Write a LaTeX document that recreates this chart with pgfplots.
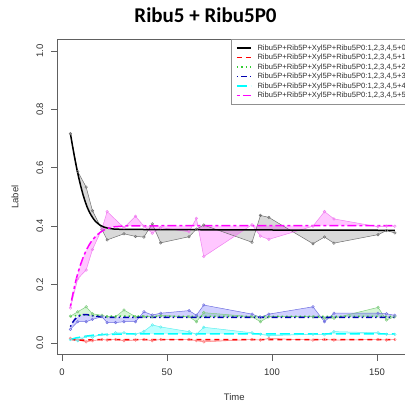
\documentclass[border=0pt]{standalone}
\usepackage{pgfplots}
\pgfplotsset{compat=1.18}
\usepackage{pgfplotstable}
\usepgfplotslibrary{fillbetween}
\usepackage{fontspec}
\setmainfont{Liberation Sans}
\newfontfamily\titlefont{Carlito}

\definecolor{axgray}{HTML}{606060}
\definecolor{labgray}{HTML}{303030}
\definecolor{leggray}{HTML}{909090}
\definecolor{cmag}{HTML}{FF00FF}
\definecolor{cred}{HTML}{FF0000}
\definecolor{cgreen}{HTML}{33CC33}
\definecolor{cblue}{HTML}{0000B0}
\definecolor{ccyan}{HTML}{00FFFF}
\definecolor{pgray}{HTML}{707070}
\definecolor{pmag}{HTML}{F080F0}
\definecolor{pred}{HTML}{FF8080}
\definecolor{pgreen}{HTML}{80CC80}
\definecolor{pblue}{HTML}{7070E0}
\definecolor{pcyan}{HTML}{60F0F0}

\tikzset{
  fit0/.style={draw=black, line width=1.5bp},
  fit1/.style={draw=cred, line width=1.5bp, dash pattern=on 5bp off 4bp},
  fit2/.style={draw=cgreen, line width=1.5bp, dash pattern=on 1.5bp off 3bp},
  fit3/.style={draw=cblue, line width=1.5bp, dash pattern=on 1.5bp off 3bp on 6bp off 3bp},
  fit4/.style={draw=ccyan, line width=1.5bp, dash pattern=on 10bp off 4bp},
  fit5/.style={draw=cmag, line width=1.5bp, dash pattern=on 3bp off 3bp on 9bp off 3bp},
}

% data: black (k0) and magenta (k5)
\pgfplotstableread{
t k0 k5
4 0.717 0.120
7.5 0.587 0.220
11.5 0.534 0.250
14.5 0.453 0.320
19 0.389 0.390
21.5 0.353 0.450
29.5 0.374 0.395
35 0.365 0.434
39 0.363 0.400
43 0.408 0.376
47 0.343 0.395
60.5 0.364 0.381
64 0.390 0.427
67.5 0.404 0.296
90.5 0.345 0.405
94.5 0.437 0.366
98.5 0.430 0.355
119.5 0.340 0.400
125 0.363 0.450
129.5 0.342 0.425
150.5 0.371 0.398
154.5 0.385 0.400
158.5 0.377 0.400
}\dataA

% data: red (k1), green (k2), blue (k3), cyan (k4)
\pgfplotstableread{
t k1 k2 k3 k4
4 0.016 0.092 0.047 0.012
7.5 0.010 0.107 0.073 0.008
11.5 0.004 0.124 0.073 0.022
14.5 0.008 0.100 0.081 0.020
19 0.012 0.095 0.090 0.030
21.5 0.010 0.090 0.070 0.028
25.5 0.012 0.090 0.070 0.035
29.5 0.008 0.113 0.073 0.035
35 0.010 0.090 0.073 0.030
39 0.012 0.090 0.107 0.040
43 0.008 0.090 0.096 0.062
47 0.012 0.095 0.102 0.055
60.5 0.012 0.090 0.111 0.039
64 0.008 0.073 0.095 0.030
67.5 0.004 0.104 0.130 0.054
90.5 0.012 0.090 0.099 0.035
94.5 0.010 0.073 0.088 0.030
98.5 0.016 0.090 0.099 0.025
119.5 0.010 0.090 0.124 0.030
125 0.012 0.085 0.073 0.028
129.5 0.010 0.085 0.102 0.039
150.5 0.012 0.122 0.102 0.035
154.5 0.010 0.079 0.100 0.030
158.5 0.012 0.090 0.095 0.030
}\dataB

% fitted curves
\pgfplotstableread{
t f0 f1 f2 f3 f4 f5
4 0.717 0.013 0.090 0.056 0.012 0.125
5 0.675 0.012 0.092 0.070 0.014 0.162
6 0.635 0.011 0.093 0.080 0.016 0.195
7 0.598 0.011 0.094 0.087 0.018 0.225
8 0.565 0.010 0.095 0.092 0.019 0.250
9 0.535 0.010 0.096 0.095 0.021 0.272
10 0.508 0.010 0.096 0.097 0.022 0.292
11 0.485 0.010 0.096 0.097 0.023 0.309
12 0.465 0.010 0.096 0.097 0.024 0.324
13 0.449 0.011 0.095 0.096 0.025 0.337
14 0.436 0.011 0.095 0.094 0.026 0.348
15 0.425 0.011 0.094 0.093 0.027 0.357
16 0.416 0.011 0.094 0.092 0.027 0.365
18 0.404 0.012 0.093 0.090 0.028 0.378
20 0.397 0.012 0.092 0.089 0.029 0.387
22 0.393 0.012 0.092 0.088 0.030 0.393
25 0.390 0.012 0.092 0.088 0.030 0.398
30 0.389 0.012 0.092 0.088 0.031 0.401
60 0.388 0.012 0.091 0.088 0.031 0.402
100 0.387 0.012 0.091 0.088 0.031 0.402
158.5 0.386 0.012 0.091 0.088 0.031 0.402
}\fits

\begin{document}
\begin{tikzpicture}
\begin{axis}[
  at={(57.3bp,54.3bp)}, anchor=south west,
  scale only axis, width=353.8bp, height=315.4bp,
  xmin=-2.24, xmax=166.24, ymin=-0.04, ymax=1.04,
  xtick={0,50,100,150}, xticklabels={0,50,100,150},
  ytick={0,0.2,0.4,0.6,0.8,1.0}, yticklabels={0.0,0.2,0.4,0.6,0.8,1.0},
  xtick pos=bottom, ytick pos=left, tick align=outside,
  major tick length=6bp,
  axis line style={draw=axgray, line width=0.6bp},
  tick style={draw=axgray, line width=0.6bp},
  ticklabel style={font=\fontsize{9.5bp}{11bp}\selectfont, text=labgray},
  xticklabel style={anchor=north, inner xsep=0pt, inner ysep=8bp},
  yticklabel style={rotate=90, anchor=south, inner xsep=0pt, inner ysep=8bp},
  xlabel={Time}, ylabel={Label},
  label style={font=\fontsize{9.5bp}{11bp}\selectfont, text=labgray},
  xlabel style={at={(axis description cs:0.5,-0.1449)}, anchor=base},
  ylabel style={at={(axis description cs:-0.110,0.5)}, anchor=base},
  legend style={at={(1,1)}, anchor=north east, draw=leggray, line width=0.6bp,
    inner xsep=5bp, inner ysep=4.5bp,
    font=\fontsize{7.6bp}{9bp}\selectfont,
    nodes={inner sep=0pt, text height=6.3bp, text depth=1.8bp},
    row sep=1.4bp, column sep=6bp},
  legend image code/.code={\draw[#1] (0bp,0bp) -- (14bp,0bp);},
  legend cell align=left,
]
\addlegendimage{fit0}
\addlegendentry{\textcolor{labgray}{Ribu5P+Rib5P+Xyl5P+Ribu5P0:1,2,3,4,5+0}}
\addlegendimage{fit1}
\addlegendentry{\textcolor{labgray}{Ribu5P+Rib5P+Xyl5P+Ribu5P0:1,2,3,4,5+1}}
\addlegendimage{fit2}
\addlegendentry{\textcolor{labgray}{Ribu5P+Rib5P+Xyl5P+Ribu5P0:1,2,3,4,5+2}}
\addlegendimage{fit3}
\addlegendentry{\textcolor{labgray}{Ribu5P+Rib5P+Xyl5P+Ribu5P0:1,2,3,4,5+3}}
\addlegendimage{fit4}
\addlegendentry{\textcolor{labgray}{Ribu5P+Rib5P+Xyl5P+Ribu5P0:1,2,3,4,5+4}}
\addlegendimage{fit5}
\addlegendentry{\textcolor{labgray}{Ribu5P+Rib5P+Xyl5P+Ribu5P0:1,2,3,4,5+5}}
% --- paths for shading
\addplot[draw=none, name path=d0, forget plot] table[x=t,y=k0]{\dataA};
\addplot[draw=none, name path=g0, forget plot] table[x=t,y=f0]{\fits};
\addplot[draw=none, name path=d5, forget plot] table[x=t,y=k5]{\dataA};
\addplot[draw=none, name path=g5, forget plot] table[x=t,y=f5]{\fits};
\addplot[draw=none, name path=d1, forget plot] table[x=t,y=k1]{\dataB};
\addplot[draw=none, name path=g1, forget plot] table[x=t,y=f1]{\fits};
\addplot[draw=none, name path=d2, forget plot] table[x=t,y=k2]{\dataB};
\addplot[draw=none, name path=g2, forget plot] table[x=t,y=f2]{\fits};
\addplot[draw=none, name path=d3, forget plot] table[x=t,y=k3]{\dataB};
\addplot[draw=none, name path=g3, forget plot] table[x=t,y=f3]{\fits};
\addplot[draw=none, name path=d4, forget plot] table[x=t,y=k4]{\dataB};
\addplot[draw=none, name path=g4, forget plot] table[x=t,y=f4]{\fits};
\addplot[fill=gray, fill opacity=0.3, draw=none, forget plot] fill between[of=d0 and g0];
\addplot[fill=cmag, fill opacity=0.22, draw=none, forget plot] fill between[of=d5 and g5];
\addplot[fill=cred, fill opacity=0.2, draw=none, forget plot] fill between[of=d1 and g1];
\addplot[fill=cgreen, fill opacity=0.2, draw=none, forget plot] fill between[of=d2 and g2];
\addplot[fill=blue, fill opacity=0.18, draw=none, forget plot] fill between[of=d3 and g3];
\addplot[fill=ccyan, fill opacity=0.25, draw=none, forget plot] fill between[of=d4 and g4];
% --- observed points
\addplot[pgray, line width=0.5bp, mark=o, mark size=1.3bp, forget plot] table[x=t,y=k0]{\dataA};
\addplot[pmag, line width=0.5bp, mark=o, mark size=1.3bp, forget plot] table[x=t,y=k5]{\dataA};
\addplot[pred, line width=0.5bp, mark=o, mark size=1.3bp, forget plot] table[x=t,y=k1]{\dataB};
\addplot[pgreen, line width=0.5bp, mark=o, mark size=1.3bp, forget plot] table[x=t,y=k2]{\dataB};
\addplot[pblue, line width=0.5bp, mark=o, mark size=1.3bp, forget plot] table[x=t,y=k3]{\dataB};
\addplot[pcyan, line width=0.5bp, mark=o, mark size=1.3bp, forget plot] table[x=t,y=k4]{\dataB};
% --- fitted curves
\addplot[fit0, forget plot] table[x=t,y=f0]{\fits};
\addplot[fit1, forget plot] table[x=t,y=f1]{\fits};
\addplot[fit2, forget plot] table[x=t,y=f2]{\fits};
\addplot[fit3, forget plot] table[x=t,y=f3]{\fits};
\addplot[fit4, forget plot] table[x=t,y=f4]{\fits};
\addplot[fit5, forget plot] table[x=t,y=f5]{\fits};
\end{axis}
\node[font=\titlefont\bfseries\fontsize{21bp}{24bp}\selectfont, anchor=base] at (205.5bp,386bp) {Ribu5 + Ribu5P0};
\pgfresetboundingbox
\path[use as bounding box] (0,0) rectangle (405bp,409bp);
\end{tikzpicture}
\end{document}
